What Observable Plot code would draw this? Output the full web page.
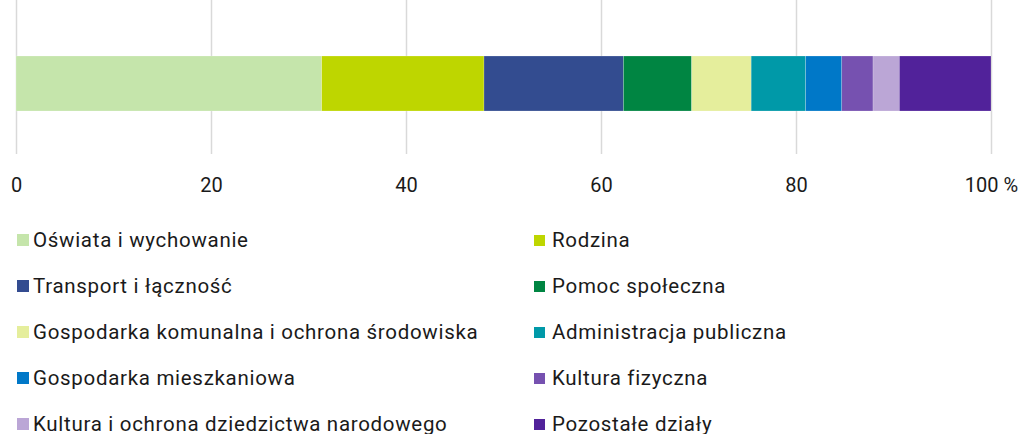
<!DOCTYPE html>
<html>
<head>
<meta charset="utf-8">
<script src="https://cdn.jsdelivr.net/npm/d3@7"></script>
<script src="https://cdn.jsdelivr.net/npm/@observablehq/plot@0.6"></script>
<style>
  html, body { margin: 0; padding: 0; background: #fff; }
  body { width: 1033px; height: 434px; overflow: hidden; font-family: Roboto, "Open Sans", sans-serif; color: #1a1a1a; }
  #chart svg { display: block; }
  #legend { display: grid; grid-template-columns: 517px auto; padding-left: 17px; margin-top: 13px; }
  .item { height: 46px; display: flex; align-items: center; font-size: 20.5px; letter-spacing: 0.7px; white-space: nowrap; }
  .sw { width: 12px; height: 12px; margin-right: 4px; flex: none; }
  .item.r .sw { width: 11px; height: 11px; margin-right: 7px; }
</style>
</head>
<body>
<div id="chart"></div>
<div id="legend"></div>
<script>
const categories = [
  "Oświata i wychowanie",
  "Rodzina",
  "Transport i łączność",
  "Pomoc społeczna",
  "Gospodarka komunalna i ochrona środowiska",
  "Administracja publiczna",
  "Gospodarka mieszkaniowa",
  "Kultura fizyczna",
  "Kultura i ochrona dziedzictwa narodowego",
  "Pozostałe działy"
];
const values = [31.35, 16.65, 14.3, 7.0, 6.1, 5.6, 3.7, 3.2, 2.7, 9.4];
const colors = ["#c5e5ab", "#bed600", "#334c90", "#008542", "#e5ee9c", "#0099a8", "#0078c8", "#7651b0", "#bba6d6", "#51229a"];
const xTicks = [0, 20, 40, 60, 80, 100];
const tickLabels = ["0", "20", "40", "60", "80", "100 %"];

const data = categories.map((c, i) => ({category: c, value: values[i], row: "2023"}));

const chart = Plot.plot({
  width: 1033,
  height: 204,
  marginLeft: 16,
  marginRight: 42,
  marginTop: 0,
  marginBottom: 50,
  style: {fontFamily: "Roboto, 'Open Sans', sans-serif", fontSize: "20px", color: "#1a1a1a", background: "#fff"},
  x: {domain: [0, 100], label: null},
  y: {domain: ["2023"], padding: 0.4667, align: 0.571, axis: null},
  color: {domain: categories, range: colors},
  marks: [
    Plot.ruleX(xTicks, {stroke: "#d9d9d9", strokeWidth: 1.5}),
    Plot.barX(data, Plot.stackX({x: "value", y: "row", fill: "category", order: null, stroke: "white", strokeWidth: 0.4, strokeOpacity: 0.5})),
    Plot.axisX({ticks: xTicks, tickFormat: (d) => tickLabels[xTicks.indexOf(d)], tickSize: 0, tickPadding: 23, fontSize: 20, label: null})
  ]
});
document.getElementById("chart").appendChild(chart);

const legend = document.getElementById("legend");
categories.forEach((c, i) => {
  const item = document.createElement("div");
  item.className = "item" + (i % 2 ? " r" : "");
  const sw = document.createElement("span");
  sw.className = "sw";
  sw.style.background = colors[i];
  const t = document.createElement("span");
  t.textContent = c;
  item.appendChild(sw);
  item.appendChild(t);
  legend.appendChild(item);
});
</script>
</body>
</html>
